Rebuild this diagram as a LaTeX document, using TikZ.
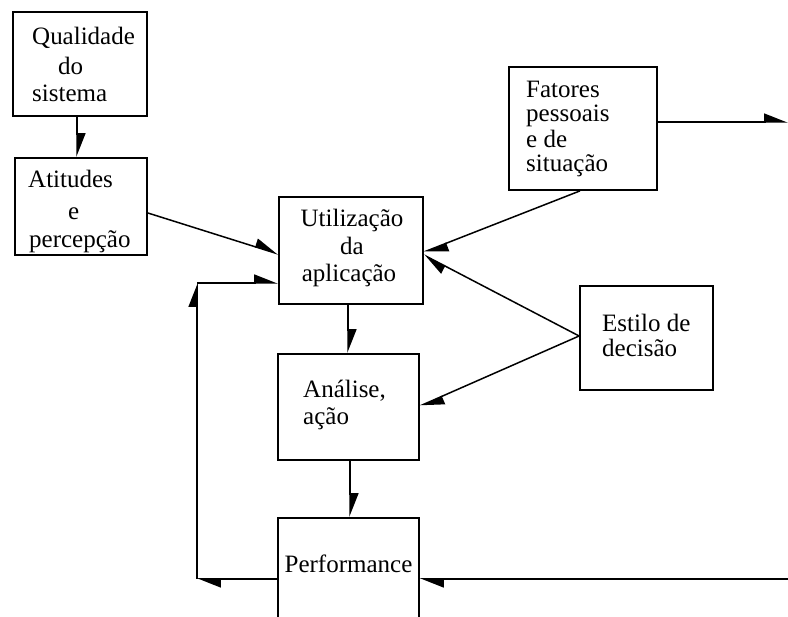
\documentclass[tikz,border=0pt]{standalone}
\usepackage{fontspec}
\setmainfont{Liberation Serif}
\usetikzlibrary{arrows.meta,calc}
\begin{document}
\begin{tikzpicture}[x=1pt,y=-1pt,
  box/.style={draw,line width=1.8pt,inner sep=0pt},
  txt/.style={inner sep=0pt,anchor=base west,font=\fontsize{25}{27}\selectfont},
  ctxt/.style={txt,anchor=base},
  conn/.style={line width=1.5pt,-{Triangle[length=22pt,width=17pt,left]}}]
\useasboundingbox (0,0) rectangle (788,617);
\clip (0,0) rectangle (788,617);

% boxes
\node[box,minimum width=134pt,minimum height=104pt] (qual) at (80,64) {};
\node[box,minimum width=132pt,minimum height=97pt] (atit) at (81,206.5) {};
\node[box,minimum width=144pt,minimum height=107pt] (util) at (351,250.5) {};
\node[box,minimum width=141pt,minimum height=106pt] (anal) at (348.5,407) {};
\node[box,minimum width=141pt,minimum height=122pt] (perf) at (348.5,579) {};
\node[box,minimum width=148pt,minimum height=123pt] (fat) at (583,128.5) {};
\node[box,minimum width=133pt,minimum height=104pt] (est) at (646.5,338) {};

% labels
\node[txt] (q1) at (32,45) {Qualidade};
\node[txt] (q2) at (58,75) {do};
\node[txt] (q3) at (32,102) {sistema};
\node[txt] (a1) at (28,188) {Atitudes};
\node[txt] (a2) at (68,220) {e};
\node[txt] (a3) at (29,248) {percepção};
\node[ctxt] (u1) at (352,227) {Utilização};
\node[ctxt] (u2) at (352,255) {da};
\node[ctxt] (u3) at (349,282) {aplicação};
\node[txt] (n1) at (303,398) {Análise,};
\node[txt] (n2) at (303,425) {ação};
\node[txt] (f1) at (526,98) {Fatores};
\node[txt] (f2) at (526,122) {pessoais};
\node[txt] (f3) at (526,148) {e de};
\node[txt] (f4) at (526,172) {situação};
\node[txt] (e1) at (602,332) {Estilo de};
\node[txt] (e2) at (602,357) {decisão};
\node[ctxt] (p1) at (348.5,573) {Performance};

% free ends and corners
\coordinate (fbtop) at (197,283);
\coordinate (fbbot) at (197,579);
\coordinate (fatout) at (788,122);
\coordinate (perfin) at (788,579);

% connectors
\draw[conn] ($(qual.south)+(-3,0)$) -- ($(atit.north)+(-4,0)$);
\draw[conn] ($(atit.east)+(0,6.5)$) -- ($(util.west)+(0,3.5)$);
\draw[conn] (perf.west) -- (fbbot);
\draw[conn] (fbbot) -- (fbtop);
\draw[conn] (fbtop) -- (fbtop -| util.west);
\draw[conn] ($(util.south)+(-3,0)$) -- ($(anal.north)+(-0.5,0)$);
\draw[conn] ($(anal.south)+(1.5,0)$) -- ($(perf.north)+(1.5,0)$);
\draw[conn] (fat.east |- fatout) -- (fatout);
\draw[conn] ($(fat.south)+(-3,0)$) -- ($(util.east)+(0,1.5)$);
\draw[conn] ($(est.west)+(0,-2)$) -- ($(util.east)+(0,4.5)$);
\draw[conn] ($(est.west)+(0,-2)$) -- ($(anal.east)+(0,-1)$);
\draw[conn] (perfin) -- (perf.east);
\end{tikzpicture}
\end{document}
